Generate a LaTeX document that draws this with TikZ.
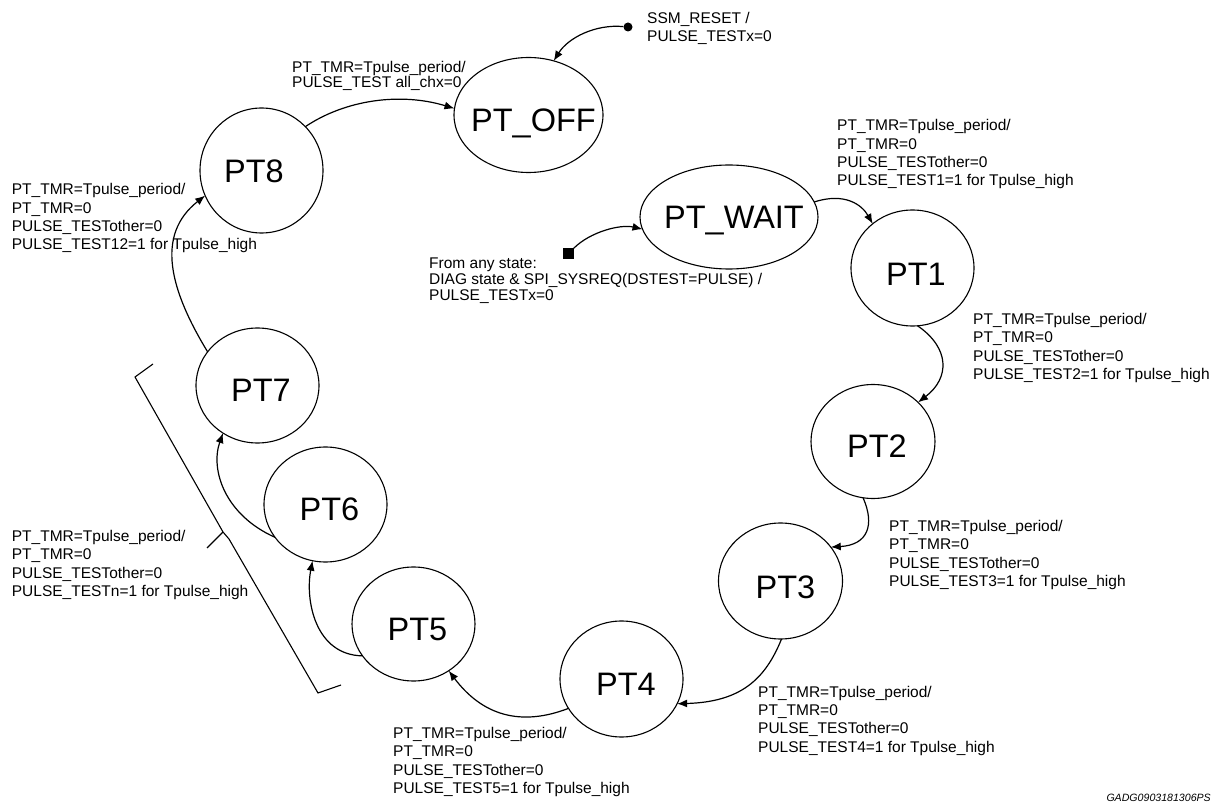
\documentclass[tikz,border=0pt]{standalone}
\usepackage{fontspec}
\setmainfont{Liberation Sans}
\usetikzlibrary{shapes.geometric,arrows.meta}
\begin{document}
\begin{tikzpicture}[x=1pt,y=-1pt,
  st/.style={ellipse,draw,line width=1.1pt,inner sep=0pt,outer sep=0pt},
  stname/.style={anchor=base,inner sep=0pt,font=\fontsize{32.5}{38}\selectfont},
  lbl/.style={anchor=north west,inner sep=0pt,align=left,font=\fontsize{15.5}{18.3}\selectfont},
  tr/.style={line width=1.2pt,-{Latex[length=10pt,width=8pt]}},
  startdot/.style={circle,fill,inner sep=0pt,minimum size=9pt},
  startsq/.style={rectangle,fill,inner sep=0pt,minimum size=11pt},
]
\useasboundingbox (0,0) rectangle (1227,802);
\fill[white] (0,0) rectangle (1227,802);

% states
\node[st,minimum width=149,minimum height=115] (off)  at (528.5,115) {};
\node[st,minimum width=178,minimum height=104] (wait) at (729,217) {};
\node[st,minimum width=123,minimum height=116] (pt1)  at (912.5,268) {};
\node[st,minimum width=124,minimum height=114] (pt2)  at (873,441.5) {};
\node[st,minimum width=124,minimum height=116] (pt3)  at (780.5,581) {};
\node[st,minimum width=123,minimum height=116] (pt4)  at (621.5,679) {};
\node[st,minimum width=123,minimum height=114] (pt5)  at (413.5,624) {};
\node[st,minimum width=123,minimum height=115] (pt6)  at (325.5,504.5) {};
\node[st,minimum width=123,minimum height=115] (pt7)  at (257.5,385.5) {};
\node[st,minimum width=123,minimum height=125] (pt8)  at (261.5,170.5) {};

% state names
\node[stname] (off-n)  at ([shift={(5,16.6)}]off.center)    {PT\_OFF};
\node[stname] (wait-n) at ([shift={(5,11.1)}]wait.center)   {PT\_WAIT};
\node[stname] (pt1-n)  at ([shift={(3.5,17.6)}]pt1.center)  {PT1};
\node[stname] (pt2-n)  at ([shift={(4,16.1)}]pt2.center)    {PT2};
\node[stname] (pt3-n)  at ([shift={(5,17.1)}]pt3.center)    {PT3};
\node[stname] (pt4-n)  at ([shift={(4.5,16.6)}]pt4.center)  {PT4};
\node[stname] (pt5-n)  at ([shift={(4,16.6)}]pt5.center)    {PT5};
\node[stname] (pt6-n)  at ([shift={(4,16.1)}]pt6.center)    {PT6};
\node[stname] (pt7-n)  at ([shift={(3.5,16.1)}]pt7.center)  {PT7};
\node[stname] (pt8-n)  at ([shift={(-7.5,11.6)}]pt8.center) {PT8};

% entry points
\node[startdot] (rst) at (628,27) {};
\node[startsq]  (any) at (568,254) {};

% transitions
\draw[tr] (rst) .. controls (595,24) and (568,38) .. (off.65.6);
\draw[tr] (pt8.45.6) .. controls (345,100) and (400,92) .. (off.175.5);
\draw[tr] (any) .. controls (590,232) and (620,224) .. (wait.188.1);
\draw[tr] (wait.10.8) .. controls (845,192) and (862,205) .. (pt1.132.6);
\draw[tr] (pt1.275.4) .. controls (950,348) and (950,378) .. (pt2.41.9);
\draw[tr] (pt2.260) .. controls (875,525) and (868,545) .. (pt3.34);
\draw[tr] (pt3.271.5) .. controls (765,680) and (740,702) .. (pt4.336.6);
\draw[tr] (pt4.209.3) .. controls (520,727) and (482,715) .. (pt5.307.4);
\draw[tr] (pt5.212) .. controls (315,655) and (305,600) .. (pt6.257.9);
\draw[tr] (pt6.213.6) .. controls (225,515) and (210,470) .. (pt7.234.4);
\draw[tr] (pt7.146.4) .. controls (170,290) and (155,235) .. (pt8.204.3);

% bracket grouping PT5..PT7
\draw[line width=1.1pt,line join=miter]
  (153,364) -- (135,377) -- (223,532) -- (229,539) -- (318,693) -- (341,685);
\draw[line width=1.1pt] (223,532) -- (207,548);

% transition labels
\node[lbl] (l-rst) at (647,11.7) {SSM\_RESET /\\PULSE\_TESTx=0};
\node[lbl,font=\fontsize{15.5}{15.3}\selectfont] (l-off) at (292,61)
  {PT\_TMR=Tpulse\_period/\\PULSE\_TEST all\_chx=0};
\node[lbl,font=\fontsize{15.5}{16}\selectfont] (l-any) at (429,257.3)
  {From any state:\\DIAG state \& SPI\_SYSREQ(DSTEST=PULSE) /\\PULSE\_TESTx=0};
\node[lbl] (l-pt1) at (837,119.5)
  {PT\_TMR=Tpulse\_period/\\PT\_TMR=0\\PULSE\_TESTother=0\\PULSE\_TEST1=1 for Tpulse\_high};
\node[lbl] (l-pt2) at (973,313)
  {PT\_TMR=Tpulse\_period/\\PT\_TMR=0\\PULSE\_TESTother=0\\PULSE\_TEST2=1 for Tpulse\_high};
\node[lbl] (l-pt3) at (889,520)
  {PT\_TMR=Tpulse\_period/\\PT\_TMR=0\\PULSE\_TESTother=0\\PULSE\_TEST3=1 for Tpulse\_high};
\node[lbl] (l-pt4) at (758,685.7)
  {PT\_TMR=Tpulse\_period/\\PT\_TMR=0\\PULSE\_TESTother=0\\PULSE\_TEST4=1 for Tpulse\_high};
\node[lbl] (l-pt5) at (393,727)
  {PT\_TMR=Tpulse\_period/\\PT\_TMR=0\\PULSE\_TESTother=0\\PULSE\_TEST5=1 for Tpulse\_high};
\node[lbl] (l-ptn) at (11.7,530)
  {PT\_TMR=Tpulse\_period/\\PT\_TMR=0\\PULSE\_TESTother=0\\PULSE\_TESTn=1 for Tpulse\_high};
\node[lbl] (l-pt8) at (11.7,183.3)
  {PT\_TMR=Tpulse\_period/\\PT\_TMR=0\\PULSE\_TESTother=0\\PULSE\_TEST12=1 for Tpulse\_high};

% drawing number
\node[anchor=base east,inner sep=0pt,font=\fontsize{10.6}{12}\selectfont\itshape] (docid)
  at (1211,801.5) {GADG0903181306PS};
\end{tikzpicture}
\end{document}
